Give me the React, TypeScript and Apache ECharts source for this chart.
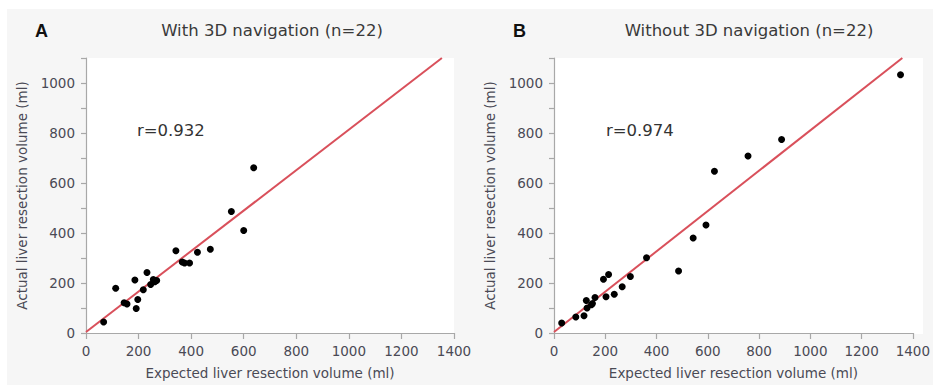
import React, { useEffect, useRef } from "react";
import * as echarts from "echarts";

const panelLetters = ["A", "B"];
const panelTitles = ["With 3D navigation (n=22)", "Without 3D navigation (n=22)"];
const correlationLabels = ["r=0.932", "r=0.974"];
const xAxisName = "Expected liver resection volume (ml)";
const yAxisName = "Actual liver resection volume (ml)";

// Panel A: expected vs actual (ml)
const withNavExpected = [67, 113, 145, 156, 186, 191, 197, 218, 232, 246, 256, 269, 262, 342, 366, 375, 394, 424, 473, 553, 600, 638];
const withNavActual = [44, 179, 121, 116, 212, 98, 134, 173, 242, 194, 214, 210, 205, 329, 284, 280, 280, 323, 335, 486, 410, 661];

// Panel B: expected vs actual (ml)
const withoutNavExpected = [30, 85, 117, 126, 129, 146, 160, 193, 203, 213, 235, 266, 298, 361, 486, 543, 593, 626, 757, 888, 1352, 150];
const withoutNavActual = [40, 64, 69, 130, 100, 113, 142, 215, 145, 234, 155, 185, 226, 301, 248, 380, 432, 647, 708, 774, 1033, 118];

// Regression lines: [x, y] end points
const withNavLine = [[0, 4], [1354, 1100]];
const withoutNavLine = [[0, 4], [1359, 1100]];

const xMin = 0, xMax = 1400, xInterval = 200;
const yMin = 0, yMax = 1100, yInterval = 100;

const FONT = "DejaVu Sans";
const AXIS_COLOR = "#a8a8a8";
const LABEL_COLOR = "#4a4a55";
const LINE_COLOR = "#d9505b";

function zip(a: number[], b: number[]) {
  return a.map((v, i) => [v, b[i]]);
}

export default function App() {
  const ref = useRef<HTMLDivElement>(null);
  useEffect(() => {
    if (!ref.current) return;
    const chart = echarts.init(ref.current, undefined, { renderer: "svg" });
    const grids = [
      { left: 86, top: 58, width: 368, height: 276 },
      { left: 554, top: 58, width: 369, height: 276 },
    ];
    const xAxes = grids.map((_, i) => ({
      type: "value",
      gridIndex: i,
      min: xMin,
      max: xMax,
      interval: xInterval,
      name: xAxisName,
      nameLocation: "middle",
      nameGap: 33,
      nameTextStyle: { fontFamily: FONT, fontSize: 13.5, color: LABEL_COLOR },
      axisLine: { show: true, lineStyle: { color: AXIS_COLOR, width: 1.2 } },
      axisTick: { show: true, length: 6, lineStyle: { color: AXIS_COLOR, width: 1.2 } },
      axisLabel: { fontFamily: FONT, fontSize: 13.5, color: LABEL_COLOR, margin: 11, formatter: (v: number) => String(v) },
      splitLine: { show: false },
    }));
    const yAxes = grids.map((_, i) => ({
      type: "value",
      gridIndex: i,
      min: yMin,
      max: yMax,
      interval: yInterval,
      name: yAxisName,
      nameLocation: "middle",
      nameGap: 57,
      nameTextStyle: { fontFamily: FONT, fontSize: 13.5, color: LABEL_COLOR },
      axisLine: { show: true, lineStyle: { color: AXIS_COLOR, width: 1.2 } },
      axisTick: { show: true, length: 5, lineStyle: { color: AXIS_COLOR, width: 1.2 } },
      axisLabel: {
        fontFamily: FONT,
        fontSize: 13.5,
        color: LABEL_COLOR,
        margin: 11,
        formatter: (v: number) => (v % 200 === 0 && v <= 1000 ? String(v) : ""),
      },
      splitLine: { show: false },
    }));
    const titleCenters = [272, 749];
    const letterX = [35, 513];
    const rX = [137, 606];
    const graphic: any[] = [
      { type: "rect", z: -10, shape: { x: 7, y: 9, width: 926, height: 376 }, style: { fill: "#f6f6f6" } },
      ...grids.map((g) => ({
        type: "rect",
        z: -5,
        shape: { x: g.left, y: g.top, width: g.width, height: g.height },
        style: { fill: "#ffffff" },
      })),
      ...panelLetters.map((t, i) => ({
        type: "text",
        x: letterX[i],
        y: 31,
        style: { text: t, fontFamily: "Liberation Sans", fontWeight: "bold", fontSize: 18, fill: "#111", textVerticalAlign: "middle" },
      })),
      ...panelTitles.map((t, i) => ({
        type: "text",
        x: titleCenters[i],
        y: 30,
        style: { text: t, fontFamily: FONT, fontSize: 16.5, fill: "#3a3a3a", textAlign: "center", textVerticalAlign: "middle" },
      })),
      ...correlationLabels.map((t, i) => ({
        type: "text",
        x: rX[i],
        y: 130,
        style: { text: t, fontFamily: FONT, fontSize: 16.5, fill: "#333", textVerticalAlign: "middle" },
      })),
    ];
    const pointSets = [zip(withNavExpected, withNavActual), zip(withoutNavExpected, withoutNavActual)];
    const lines = [withNavLine, withoutNavLine];
    const series: any[] = [];
    [0, 1].forEach((i) => {
      series.push({
        type: "line",
        xAxisIndex: i,
        yAxisIndex: i,
        data: lines[i],
        symbol: "none",
        lineStyle: { color: LINE_COLOR, width: 2 },
        z: 2,
      });
      series.push({
        type: "scatter",
        xAxisIndex: i,
        yAxisIndex: i,
        data: pointSets[i],
        symbol: "circle",
        symbolSize: 7,
        itemStyle: { color: "#000", opacity: 1 },
        z: 3,
      });
    });
    chart.setOption({
      animation: false,
      backgroundColor: "#ffffff",
      grid: grids,
      xAxis: xAxes,
      yAxis: yAxes,
      graphic,
      series,
    });
    return () => chart.dispose();
  }, []);
  return (
    <div
      ref={ref}
      style={{ position: "fixed", left: 0, top: 0, width: 933, height: 385 }}
    />
  );
}
